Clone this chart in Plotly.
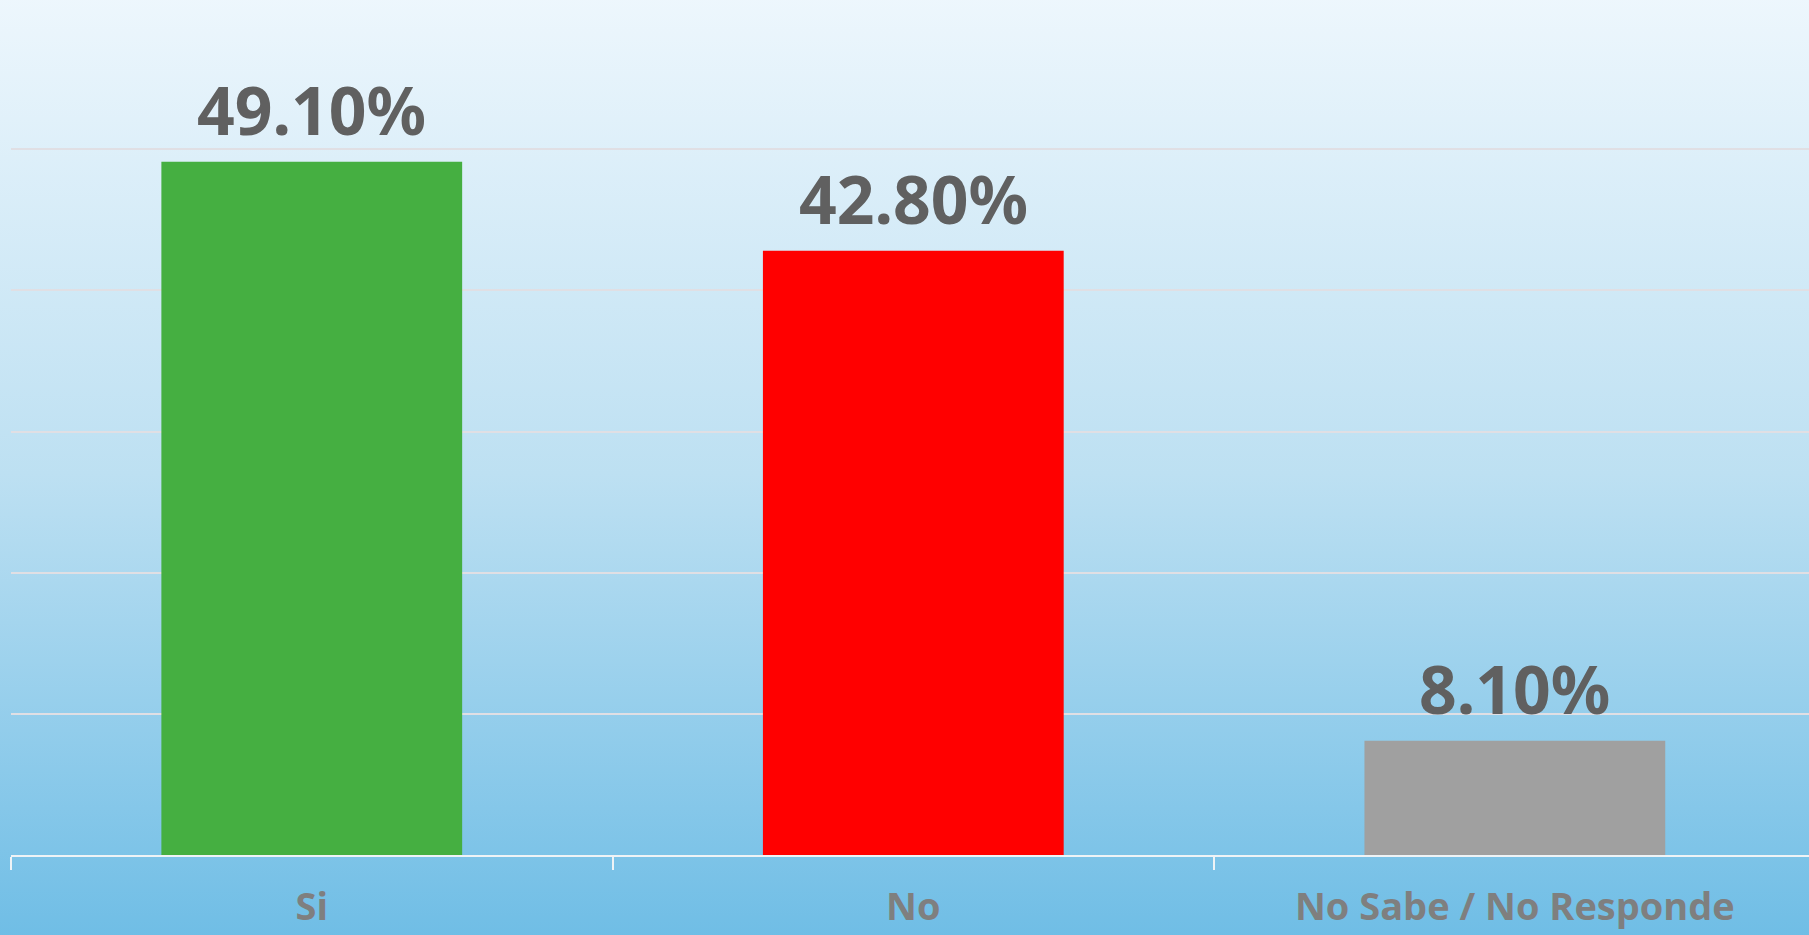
import base64
import plotly.graph_objects as go

# ── data ──
categories = ["Si", "No", "No Sabe / No Responde"]
values = [49.1, 42.8, 8.1]
bar_colors = ["#45af41", "#ff0000", "#a0a0a0"]

# ── sky-blue vertical gradient background (svg as a layout image) ──
svg = (
    "<svg xmlns='http://www.w3.org/2000/svg' viewBox='0 0 100 100' width='100' height='100' "
    "preserveAspectRatio='none'>"
    "<defs><linearGradient id='g' x1='0' y1='0' x2='0' y2='1'>"
    "<stop offset='0' stop-color='#eef7fd'/>"
    "<stop offset='0.5' stop-color='#bde0f2'/>"
    "<stop offset='1' stop-color='#6cbce5'/>"
    "</linearGradient></defs>"
    "<rect width='100' height='100' fill='url(#g)'/></svg>"
)
bg_uri = "data:image/svg+xml;base64," + base64.b64encode(svg.encode()).decode()

fig = go.Figure()
fig.add_trace(go.Bar(
    x=categories, y=values,
    width=0.5,
    marker=dict(color=bar_colors, line=dict(width=0)),
    hoverinfo="skip",
    showlegend=False,
))

# value labels above each bar
for cat, v in zip(categories, values):
    fig.add_annotation(
        x=cat, y=v, xref="x", yref="y",
        text=f"<b>{v:.2f}%</b>",
        showarrow=False, yanchor="bottom", yshift=6,
        font=dict(family="Noto Sans", size=66, color="#606060"),
    )

# stretch the gradient across the full page, margins included
fig.add_layout_image(
    source=bg_uri, xref="paper", yref="paper",
    x=-0.02, y=1.02, sizex=1.04, sizey=1.14, xanchor="left", yanchor="top",
    sizing="stretch", layer="below",
)

fig.update_layout(
    width=1809, height=935,
    paper_bgcolor="#6cbce5",
    plot_bgcolor="rgba(0,0,0,0)",
    margin=dict(l=11, r=0, t=8, b=80, autoexpand=False),
    xaxis=dict(
        range=[-0.5, 2.489],
        showgrid=False, zeroline=False,
        showline=True, linecolor="#eef3f6", linewidth=2,
        ticks="outside", tickson="boundaries", ticklen=13,
        tickcolor="#eef3f6", tickwidth=2,
        tickfont=dict(family="Open Sans", size=38, color="#7f7f7f", weight="bold"),
        ticklabelstandoff=17,
    ),
    yaxis=dict(
        range=[0, 60], dtick=10,
        showticklabels=False, zeroline=False,
        showgrid=True, gridcolor="#e0dfe4", gridwidth=2,
    ),
)

fig.write_html("out.html", config={"displayModeBar": False},
               post_script="document.body.style.margin='0';document.body.style.overflow='hidden';")
